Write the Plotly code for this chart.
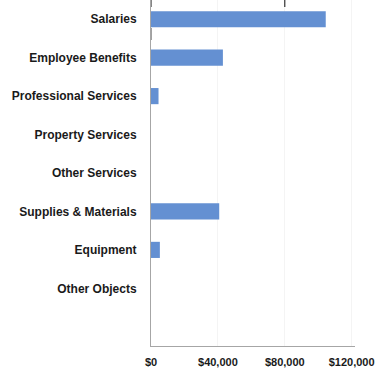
import plotly.graph_objects as go

# Spending by object category
categories = [
    "Salaries",
    "Employee Benefits",
    "Professional Services",
    "Property Services",
    "Other Services",
    "Supplies & Materials",
    "Equipment",
    "Other Objects",
]
amounts = [104500, 43000, 4500, 0, 0, 40800, 5300, 0]

x_ticks = [0, 40000, 80000, 120000]
x_tick_labels = ["$0", "$40,000", "$80,000", "$120,000"]

font_family = "Liberation Sans Narrow, Arial Narrow, sans-serif"

fig = go.Figure(
    go.Bar(
        x=amounts,
        y=categories,
        orientation="h",
        marker=dict(color="#6490D2", line=dict(width=0)),
        width=0.42,
    )
)

plot_height = 369 - 0 - 23

fig.update_layout(
    width=378,
    height=369,
    margin=dict(l=151, r=23, t=0, b=23),
    paper_bgcolor="white",
    plot_bgcolor="white",
    showlegend=False,
    font=dict(family=font_family, size=12, color="#1A1A1A"),
    shapes=[
        # short dark tick marks along the top edge
        dict(type="line", xref="x", yref="paper", x0=80000, x1=80000,
             y0=1, y1=1 - 7 / plot_height, line=dict(color="#333333", width=1.2)),
        dict(type="line", xref="x", yref="paper", x0=0, x1=0,
             y0=1, y1=1 - 7 / plot_height, line=dict(color="#333333", width=1.2)),
        dict(type="line", xref="x", yref="paper", x0=0, x1=0,
             y0=1 - 28 / plot_height, y1=1 - 40 / plot_height,
             line=dict(color="#444444", width=1)),
    ],
)

fig.update_xaxes(
    range=[0, 122000],
    tickvals=x_ticks,
    ticktext=x_tick_labels,
    tickfont=dict(family=font_family, size=11, color="#1A1A1A", weight="bold"),
    showgrid=True,
    gridcolor="#F4F4F4",
    gridwidth=1,
    zeroline=False,
    showline=True,
    linecolor="#A6A6A6",
    linewidth=1,
    ticks="",
    ticklabelstandoff=6,
)

fig.update_yaxes(
    categoryorder="array",
    categoryarray=categories,
    range=[8.5, -0.5],
    showgrid=False,
    showline=True,
    linecolor="#A6A6A6",
    linewidth=1,
    ticks="",
    ticklabelstandoff=11,
    tickfont=dict(family=font_family, size=12, color="#1A1A1A", weight="bold"),
)

fig.write_html("out.html")
